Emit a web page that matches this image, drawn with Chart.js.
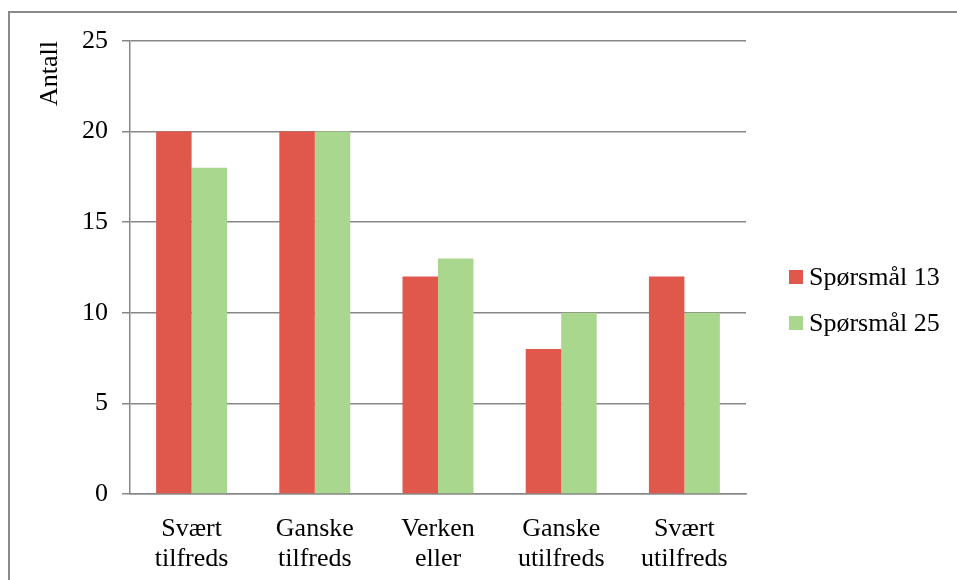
<!DOCTYPE html>
<html>
<head>
<meta charset="utf-8">
<script src="https://cdn.jsdelivr.net/npm/chart.js@4/dist/chart.umd.min.js"></script>
<style>
  html, body { margin: 0; padding: 0; background: #fff; }
  #wrap { width: 957px; height: 580px; position: relative; }
</style>
</head>
<body>
<div id="wrap"><canvas id="c" width="957" height="580"></canvas></div>
<script>
const categories = [["Svært", "tilfreds"], ["Ganske", "tilfreds"], ["Verken", "eller"], ["Ganske", "utilfreds"], ["Svært", "utilfreds"]];
const seriesNames = ["Spørsmål 13", "Spørsmål 25"];
const sporsmal13 = [20, 20, 12, 8, 12];
const sporsmal25 = [18, 20, 13, 10, 10];
const yTicks = [0, 5, 10, 15, 20, 25];
const axisTitle = "Antall";

const FONT = "'Liberation Serif', 'Times New Roman', serif";
Chart.defaults.font.family = FONT;
Chart.defaults.font.size = 26;
Chart.defaults.color = '#000';

const framePlugin = {
  id: 'frame',
  beforeDraw(chart) {
    const ctx = chart.ctx;
    ctx.save();
    ctx.fillStyle = '#fff';
    ctx.fillRect(0, 0, chart.width, chart.height);
    ctx.strokeStyle = '#8a8a8a';
    ctx.lineWidth = 2;
    ctx.strokeRect(9, 12, chart.width + 20, chart.height + 20);
    ctx.restore();
  }
};

const legendPlugin = {
  id: 'customLegend',
  afterDraw(chart) {
    const ctx = chart.ctx;
    ctx.save();
    ctx.font = "26px " + FONT;
    ctx.textBaseline = 'middle';
    ctx.textAlign = 'left';
    chart.data.datasets.forEach((ds, i) => {
      const cy = 277 + i * 46;
      ctx.fillStyle = ds.backgroundColor;
      ctx.fillRect(789, cy - 7, 14, 14);
      ctx.fillStyle = '#000';
      ctx.fillText(ds.label, 809, cy + 1);
    });
    ctx.restore();
  }
};

new Chart(document.getElementById('c'), {
  type: 'bar',
  data: {
    labels: categories,
    datasets: [
      { label: seriesNames[0], data: sporsmal13, backgroundColor: '#E0574B' },
      { label: seriesNames[1], data: sporsmal25, backgroundColor: '#A9D78D' }
    ]
  },
  options: {
    responsive: false,
    animation: false,
    devicePixelRatio: 1,
    layout: { padding: { left: 0, top: 41, right: 211, bottom: 0 } },
    plugins: { legend: { display: false }, tooltip: { enabled: false } },
    datasets: { bar: { categoryPercentage: 0.576, barPercentage: 1.0, borderWidth: 0 } },
    scales: {
      x: {
        grid: { display: false, drawTicks: false },
        border: { display: true, color: '#888', width: 1.5 },
        ticks: { padding: 20, maxRotation: 0, autoSkip: false, font: { size: 26, lineHeight: 1.15 } },
        afterFit(scale) { scale.height = 86; }
      },
      y: {
        min: 0, max: 25,
        afterBuildTicks(scale) { scale.ticks = yTicks.map(v => ({ value: v })); },
        grid: { color: '#888', lineWidth: 1.5, drawTicks: true, tickLength: 8 },
        border: { display: true, color: '#888', width: 1.5 },
        ticks: { padding: 14, font: { size: 26 } },
        title: { display: true, text: axisTitle, align: 'end', padding: { top: 35, bottom: 0 }, font: { size: 26 } },
        afterFit(scale) { scale.width = 130; }
      }
    }
  },
  plugins: [framePlugin, legendPlugin]
});
</script>
</body>
</html>
